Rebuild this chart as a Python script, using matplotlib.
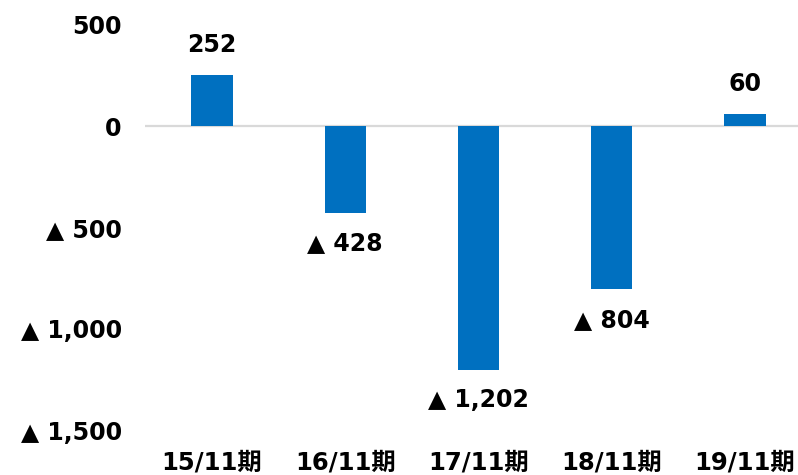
import matplotlib
matplotlib.use("Agg")
import matplotlib.pyplot as plt

plt.rcParams['font.family'] = ['DejaVu Sans', 'Noto Sans CJK JP']

# -- Data
categories = ['15/11期', '16/11期', '17/11期', '18/11期', '19/11期']
values = [252, -428, -1202, -804, 60]
yticks = [500, 0, -500, -1000, -1500]


def fmt(v):
    # negative numbers are written with a triangle in Japanese reports
    if v < 0:
        return '▲ ' + format(-v, ',')
    return format(v, ',')


fig = plt.figure(figsize=(7.98, 4.75), dpi=100)
ax = fig.add_axes([145.4 / 798, 45 / 475, 666.2 / 798, 405 / 475])

x = range(len(categories))
ax.bar(x, values, width=0.31, color='#0070C0', zorder=3)
ax.axhline(0, color='#D9D9D9', lw=1.6, zorder=2)

ax.set_xlim(-0.5, len(categories) - 0.5)
ax.set_ylim(-1500, 500)
ax.set_yticks(yticks)
ax.set_yticklabels([fmt(t) for t in yticks], fontsize=17, fontweight='bold')
ax.set_xticks(list(x))
ax.set_xticklabels(categories, fontsize=17.5, fontweight='bold')
ax.tick_params(axis='y', length=0, pad=17)
ax.tick_params(axis='x', length=0, pad=15)
for s in ax.spines.values():
    s.set_visible(False)

# -- Data labels
for xi, v in zip(x, values):
    off = 22 if v >= 0 else -22
    ax.annotate(fmt(v), (xi, v), xytext=(0, off), textcoords='offset points',
                ha='center', va='center', fontsize=17, fontweight='bold')

fig.savefig('out.png', dpi=100)
